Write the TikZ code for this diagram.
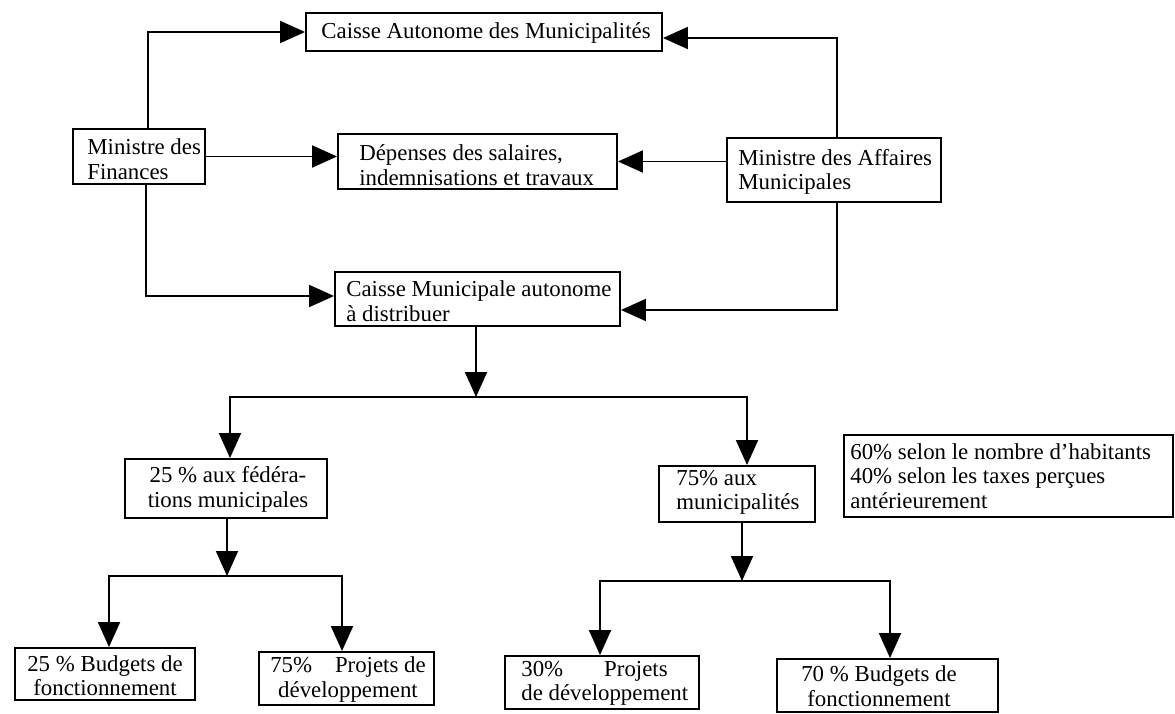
\documentclass[tikz,border=0pt]{standalone}
\usepackage{fontspec}
\setmainfont{Liberation Serif}
\usetikzlibrary{arrows.meta}
\tikzset{
  box/.style={draw, line width=1.1pt, inner sep=0pt},
  txt/.style={inner sep=0pt, align=left, anchor=west},
  ctxt/.style={inner sep=0pt, align=center},
  arr/.style={line width=1.1pt, -{Triangle[length=0.5cm,width=0.44cm]}},
}
\begin{document}
\begin{tikzpicture}[x=0.02cm, y=-0.02cm, font=\fontsize{13pt}{14pt}\selectfont]
\useasboundingbox (0,0) rectangle (1175,713);
% boxes
\node[box, minimum width=7.12cm, minimum height=0.76cm] (caisseA) at (484,32) {};
\node[box, minimum width=2.64cm, minimum height=1.10cm] (fin) at (139,156.5) {};
\node[box, minimum width=5.58cm, minimum height=1.10cm] (dep) at (477.5,161.5) {};
\node[box, minimum width=4.28cm, minimum height=1.28cm] (mam) at (834,170) {};
\node[box, minimum width=5.70cm, minimum height=1.08cm] (cmun) at (477.5,299) {};
\node[box, minimum width=4.04cm, minimum height=1.18cm] (fed) at (226,488.5) {};
\node[box, minimum width=3.12cm, minimum height=1.12cm] (mun) at (737,494) {};
\node[box, minimum width=6.58cm, minimum height=1.64cm] (note) at (1008.5,476) {};
\node[box, minimum width=3.60cm, minimum height=1.04cm] (b1) at (105,674) {};
\node[box, minimum width=3.50cm, minimum height=1.06cm] (b2) at (346.5,678.5) {};
\node[box, minimum width=3.88cm, minimum height=1.06cm] (b3) at (602,682.5) {};
\node[box, minimum width=4.42cm, minimum height=1.06cm] (b4) at (887.5,685.5) {};
% texts
\node[ctxt] (caisseAT) at (486,33) {Caisse Autonome des Municipalités};
\node[txt] (finT) at (87,159) {Ministre des\\Finances};
\node[txt] (depT) at (359,165) {Dépenses des salaires,\\indemnisations et travaux};
\node[txt] (mamT) at (738,172) {Ministre des Affaires\\Municipales};
\node[txt] (cmunT) at (346,301) {Caisse Municipale autonome\\à distribuer};
\node[ctxt] (fedT) at (228,489.5) {25 \% aux fédéra-\\tions municipales};
\node[txt] (munT) at (676,492.5) {75\% aux\\municipalités};
\node[txt] (noteT) at (850,476) {60\% selon le nombre d’habitants\\40\% selon les taxes perçues\\antérieurement};
\node[ctxt] (b1T) at (105,675.5) {25 \% Budgets de\\fonctionnement};
\node[ctxt] (b2T) at (348,679.5) {75\%\quad Projets de\\développement};
\node[txt] (b3T) at (521,683.5) {30\%\hspace{0.82cm}Projets\\de développement};
\node[ctxt] (b4T) at (879,686) {70 \% Budgets de\\fonctionnement};
% junctions
\coordinate (j1) at (476,397);
\coordinate (j2) at (227,576);
\coordinate (j3) at (742,581);
% top connectors
\draw[arr] ([xshift=0.18cm]fin.north) |- (caisseA.west);
\draw[arr] (fin.east) -- (fin.east -| dep.west);
\draw[arr] ([xshift=0.14cm]fin.south) |- ([yshift=0.06cm]cmun.west);
\draw[arr] ([xshift=0.06cm]mam.north) |- ([yshift=-0.12cm]caisseA.east);
\draw[arr] (mam.west |- dep.east) -- (dep.east);
\draw[arr] ([xshift=0.06cm]mam.south) |- ([yshift=-0.22cm]cmun.east);
% distribution
\draw[arr] (cmun.south -| j1) -- (j1);
\draw[arr] (j1) -| ([xshift=0.08cm]fed.north);
\draw[arr] (j1) -| ([xshift=0.2cm]mun.north);
\draw[arr] (fed.south -| j2) -- (j2);
\draw[arr] (j2) -| ([xshift=0.08cm]b1.north);
\draw[arr] (j2) -| ([xshift=-0.09cm]b2.north);
\draw[arr] (mun.south -| j3) -- (j3);
\draw[arr] (j3) -| ([xshift=-0.04cm]b3.north);
\draw[arr] (j3) -| ([xshift=0.05cm]b4.north);
\end{tikzpicture}
\end{document}
